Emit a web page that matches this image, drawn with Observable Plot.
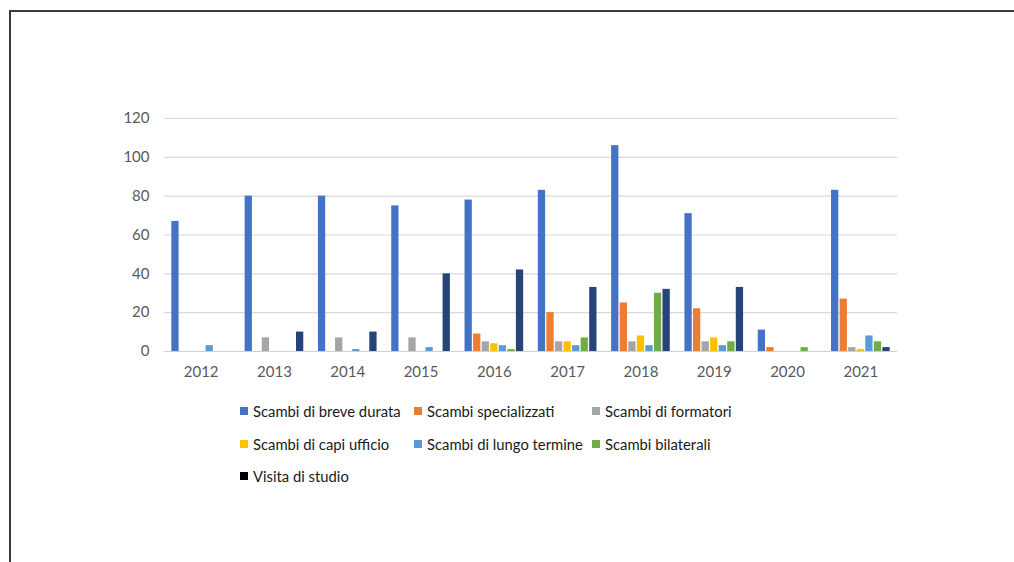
<!DOCTYPE html>
<html>
<head>
<meta charset="utf-8">
<script src="https://cdn.jsdelivr.net/npm/d3@7"></script>
<script src="https://cdn.jsdelivr.net/npm/@observablehq/plot@0.6"></script>
<style>
  html, body { margin: 0; padding: 0; background: #fff; }
  #page { position: relative; width: 1014px; height: 562px; overflow: hidden; font-family: Lato, "Open Sans", sans-serif; }
  #frame { position: absolute; left: 9px; top: 10px; width: 1010px; height: 560px; border-top: 2px solid #3a3a3a; border-left: 2px solid #3a3a3a; box-sizing: border-box; }
  .layer { position: absolute; left: 0; top: 0; }
  .item { position: absolute; display: flex; align-items: center; font-size: 14.8px; color: #1a1a1a; white-space: nowrap; }
  .sw { width: 8px; height: 8px; margin-right: 5px; flex: none; }
</style>
</head>
<body>
<div id="page">
  <div id="frame"></div>
  <div id="bg" class="layer"></div>
  <div id="fg" class="layer"></div>
  <div id="legend"></div>
</div>
<script>
// ---- data ----
const years = ["2012","2013","2014","2015","2016","2017","2018","2019","2020","2021"];
const series = ["Scambi di breve durata","Scambi specializzati","Scambi di formatori","Scambi di capi ufficio","Scambi di lungo termine","Scambi bilaterali","Visita di studio"];
const colors = ["#4472C4","#ED7D31","#A5A5A5","#FFC000","#5B9BD5","#70AD47","#264478"];
const legendColors = ["#4472C4","#ED7D31","#A5A5A5","#FFC000","#5B9BD5","#70AD47","#000000"];
const breveDurata   = [67, 80, 80, 75, 78, 83, 106, 71, 11, 83];
const specializzati = [ 0,  0,  0,  0,  9, 20,  25, 22,  2, 27];
const formatori     = [ 0,  7,  7,  7,  5,  5,   5,  5,  0,  2];
const capiUfficio   = [ 0,  0,  0,  0,  4,  5,   8,  7,  0,  1];
const lungoTermine  = [ 3,  0,  1,  2,  3,  3,   3,  3,  0,  8];
const bilaterali    = [ 0,  0,  0,  0,  1,  7,  30,  5,  2,  5];
const visitaStudio  = [ 0, 10, 10, 40, 42, 33,  32, 33,  0,  2];
const yTicks = [0, 20, 40, 60, 80, 100, 120];

const valueArrays = [breveDurata, specializzati, formatori, capiUfficio, lungoTermine, bilaterali, visitaStudio];
const data = years.flatMap((yr, i) => series.map((s, j) => ({year: yr, series: s, value: valueArrays[j][i]})));

// ---- layout ----
const W = 1014, H = 400;
const M = {top: 118, bottom: 49, left: 164, right: 117};
const font = "Lato, 'Open Sans', sans-serif";

// background layer: continuous gridlines, y axis, year labels
const bg = Plot.plot({
  width: W, height: H,
  marginTop: M.top, marginBottom: M.bottom, marginLeft: M.left, marginRight: M.right,
  style: {fontFamily: font, fontSize: "15px", color: "#595959", background: "transparent"},
  x: {domain: years, paddingInner: 0.2, paddingOuter: 0.1, round: false, label: null},
  y: {domain: [0, 120], label: null},
  marks: [
    Plot.gridY(yTicks, {stroke: "#d9d9d9", strokeOpacity: 1, strokeWidth: 1.2}),
    Plot.ruleY([0], {stroke: "#d0d0d0", strokeWidth: 1.2}),
    Plot.axisY(yTicks, {tickSize: 0, tickPadding: 15, fill: "#595959"}),
    Plot.axisX({tickSize: 0, tickPadding: 15, fill: "#595959"})
  ]
});
document.getElementById("bg").appendChild(bg);

// foreground layer: grouped bars
const fg = Plot.plot({
  width: W, height: H,
  marginTop: M.top, marginBottom: M.bottom, marginLeft: M.left, marginRight: M.right,
  style: {fontFamily: font, background: "transparent"},
  fx: {domain: years, paddingInner: 0.2, paddingOuter: 0.1, round: false, axis: null, label: null},
  x: {domain: series, paddingInner: 0.15, paddingOuter: 0, round: false, axis: null},
  y: {domain: [0, 120], axis: null},
  color: {domain: series, range: colors},
  marks: [
    Plot.barY(data, {fx: "year", x: "series", y: "value", fill: "series"})
  ]
});
document.getElementById("fg").appendChild(fg);

// legend (HTML, below the plot)
const colX = [240, 414, 592];
const rowY = [411, 444, 476];
const legend = document.getElementById("legend");
series.forEach((s, i) => {
  const d = document.createElement("div");
  d.className = "item";
  d.style.left = colX[i % 3] + "px";
  d.style.top = (rowY[Math.floor(i / 3)] - 10) + "px";
  d.style.height = "20px";
  const sw = document.createElement("span");
  sw.className = "sw";
  sw.style.background = legendColors[i];
  const t = document.createElement("span");
  t.textContent = s;
  d.appendChild(sw); d.appendChild(t);
  legend.appendChild(d);
});
</script>
</body>
</html>
